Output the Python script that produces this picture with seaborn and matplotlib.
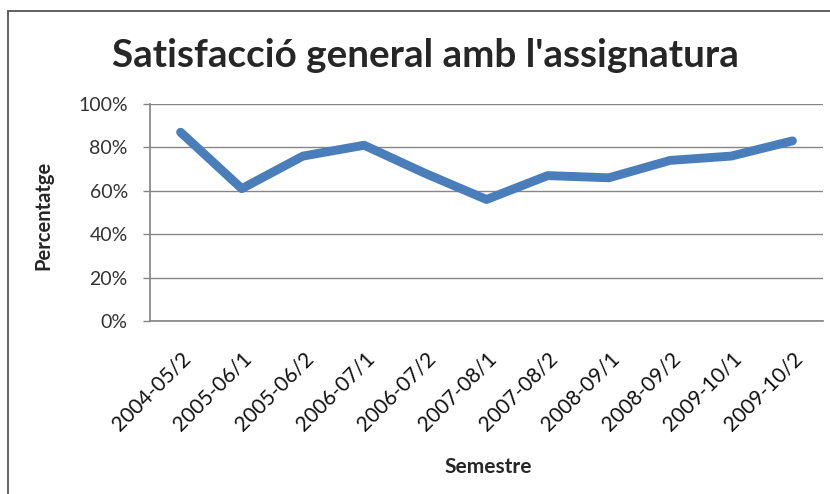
import pandas as pd
import seaborn as sns
import matplotlib.pyplot as plt
from matplotlib.patches import Rectangle
from matplotlib.ticker import PercentFormatter

semestres = ["2004-05/2", "2005-06/1", "2005-06/2", "2006-07/1", "2006-07/2",
             "2007-08/1", "2007-08/2", "2008-09/1", "2008-09/2", "2009-10/1",
             "2009-10/2"]
satisfaccio = [87, 61, 76, 81, 68, 56, 67, 66, 74, 76, 83]

if __name__ == "__main__":
    sns.set_theme(style="white")
    plt.rcParams["font.family"] = ["Lato", "DejaVu Sans"]

    df = pd.DataFrame({"semestre": semestres, "pct": satisfaccio})

    fig = plt.figure(figsize=(8.3, 4.94), dpi=100)
    W, H = 830, 494
    ax = fig.add_axes([150 / W, (H - 321) / H, (823 - 150) / W, (321 - 104) / H])

    sns.lineplot(data=df, x="semestre", y="pct", ax=ax, color="#4A7EBB",
                 linewidth=6.4, solid_capstyle="round", solid_joinstyle="round",
                 sort=False)

    ax.set_xlim(-0.5, len(semestres) - 0.5)
    ax.set_ylim(0, 100)
    ax.set_yticks(range(0, 101, 20))
    ax.yaxis.set_major_formatter(PercentFormatter(decimals=0))
    ax.yaxis.grid(True, color="#868686", linewidth=1)
    ax.set_axisbelow(True)

    for side in ["top", "right"]:
        ax.spines[side].set_visible(False)
    ax.spines["left"].set_color("#868686")
    ax.spines["bottom"].set_color("#868686")
    ax.tick_params(axis="y", which="major", length=5, width=1, color="#868686",
                   left=True, labelsize=14, labelcolor="#333333", pad=11)
    ax.tick_params(axis="x", length=0, labelsize=15, labelcolor="#111111", pad=20)
    plt.setp(ax.get_xticklabels(), rotation=45, ha="right", rotation_mode="anchor")

    ax.set_xlabel("Semestre", fontsize=15, fontweight="bold")
    ax.xaxis.set_label_coords(0.502, -0.627)
    ax.set_ylabel("Percentatge", fontsize=14.5, fontweight="bold")
    ax.yaxis.set_label_coords(-0.144, 0.488)

    fig.text(425 / W, 1 - 67 / H, "Satisfacció general amb l'assignatura",
             ha="center", va="baseline", fontsize=27.8, fontweight="bold")

    # Chart border
    fig.patches.append(Rectangle((8 / W, -0.1), 1.2, (H - 11) / H + 0.1,
                                 transform=fig.transFigure, fill=False,
                                 edgecolor="#555555", linewidth=1.3))

    fig.savefig("out.png", dpi=100)
